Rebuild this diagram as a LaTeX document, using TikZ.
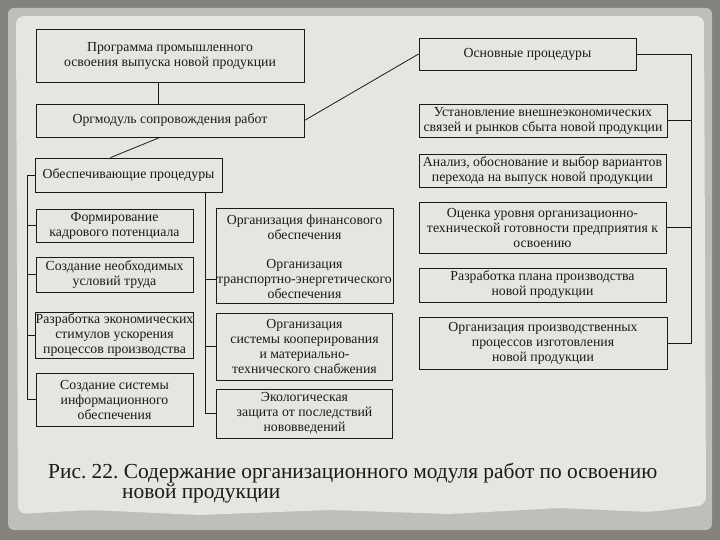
\documentclass[tikz,border=0pt]{standalone}
\usepackage{fontspec}
\setmainfont{Liberation Serif}
\usetikzlibrary{calc}
\definecolor{paper}{HTML}{E6E5DF}
\definecolor{paperedge}{HTML}{C0BEB8}
\definecolor{framegray}{HTML}{84827C}
\definecolor{ink}{HTML}{1A1A1A}
\tikzset{
  box/.style={draw=ink, line width=0.8pt, align=center, inner sep=0pt, text=ink,
              font=\fontsize{13.8}{15}\selectfont},
  txt/.style={align=center, inner sep=0pt, text=ink, font=\fontsize{13.8}{15}\selectfont},
  conn/.style={draw=ink, line width=0.8pt},
  captext/.style={anchor=base west, inner sep=0pt, text=ink, font=\fontsize{21.4}{22}\selectfont},
}
\begin{document}
\frenchspacing
\begin{tikzpicture}[x=1pt,y=-1pt]
\useasboundingbox (0,0) rectangle (720,540);
\fill[framegray] (0,0) rectangle (720,540);
\fill[paperedge, rounded corners=6pt] (8,8) rectangle (712,530);
\fill[paper, rounded corners=8pt] (16,16) -- (704,16) -- (706,505) -- (650,512) -- (560,508) -- (450,514) -- (330,510) -- (200,515) -- (90,510) -- (18,514) -- cycle;

% top left
\node[box, minimum width=268pt, minimum height=53pt] (prog) at (170,55.5)
  {Программа промышленного\\освоения выпуска новой продукции};
\node[box, minimum width=268pt, minimum height=33pt] (org) at (170,120.5)
  {Оргмодуль сопровождения работ};
\draw[conn] ([xshift=-12pt]prog.south) -- ([xshift=-12pt]org.north);

% right column
\node[box, minimum width=217pt, minimum height=32pt] (osn) at (527.5,54)
  {Основные процедуры};
\node[box, minimum width=248pt, minimum height=33pt] (ust) at (543,120.5)
  {Установление внешнеэкономических\\связей и рынков сбыта новой продукции};
\node[box, minimum width=247pt, minimum height=33pt] (anal) at (542.5,170.5)
  {Анализ, обоснование и выбор вариантов\\перехода на выпуск новой продукции};
\node[box, minimum width=247pt, minimum height=51pt] (ocen) at (542.5,227.5)
  {Оценка уровня организационно-\\технической готовности предприятия к\\освоению};
\node[box, minimum width=247pt, minimum height=34pt] (plan) at (542.5,285)
  {Разработка плана производства\\новой продукции};
\node[box, minimum width=248pt, minimum height=52pt] (proc) at (543,343)
  {Организация производственных\\процессов изготовления\\новой продукции};

\coordinate (rtop) at (691,54);
\draw[conn] (osn.east) -- (rtop) |- (proc.east);
\draw[conn] (ust.east) -- (ust.east -| rtop);
\draw[conn] (ocen.east) -- (ocen.east -| rtop);

\draw[conn] (org.east) -- (osn.west);

% left column
\node[box, minimum width=187pt, minimum height=34pt] (obes) at (128.5,175)
  {Обеспечивающие процедуры};
\draw[conn] ([xshift=-10pt]org.south) -- ([xshift=-18pt]obes.north);

\node[box, minimum width=157pt, minimum height=33pt] (kadr) at (114.5,225.5)
  {Формирование\\кадрового потенциала};
\node[box, minimum width=157pt, minimum height=35pt] (usl) at (114.5,274.5)
  {Создание необходимых\\условий труда};
\node[box, minimum width=157pt, minimum height=46pt] (stim) at (114.5,335)
  {Разработка экономических\\стимулов ускорения\\процессов производства};
\node[box, minimum width=157pt, minimum height=53pt] (info) at (114.5,399.5)
  {Создание системы\\информационного\\обеспечения};

\coordinate (lbus) at (27,175);
\draw[conn] (obes.west) -- (lbus) |- (info.west);
\draw[conn] (kadr.west) -- (kadr.west -| lbus);
\draw[conn] (usl.west) -- (usl.west -| lbus);
\draw[conn] (stim.west) -- (stim.west -| lbus);

% middle column
\node[txt] (fin) at (304.5,227) {Организация финансового\\обеспечения};
\node[txt] (trans) at (304.5,279) {Организация\\транспортно-энергетического\\обеспечения};
\draw[conn] (216,208) rectangle (393,303);
\node[box, minimum width=176pt, minimum height=67pt] (koop) at (304.5,346.5)
  {Организация\\системы кооперирования\\и материально-\\технического снабжения};
\node[box, minimum width=176pt, minimum height=49pt] (eco) at (304.5,413.5)
  {Экологическая\\защита от последствий\\нововведений};

\coordinate (mtop) at (205,192);
\coordinate (mbot) at (205,413.5);
\draw[conn] (mtop) -- (mbot) -- (eco.west);
\draw[conn] (koop.west) -- (koop.west -| mtop);
\draw[conn] (216,279) -- (205,279);

% caption
\node[captext] (cap1) at (48,478)
  {Рис. 22. Содержание организационного модуля работ по освоению};
\node[captext] (cap2) at (122,498)
  {новой продукции};
\end{tikzpicture}
\end{document}
